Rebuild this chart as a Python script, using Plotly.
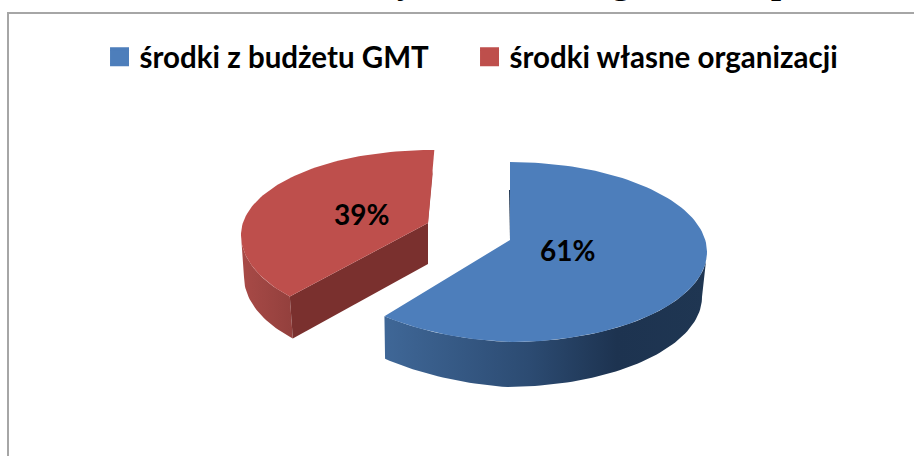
import math
import plotly.graph_objects as go

# --- data ---
categories = ["środki z budżetu GMT", "środki własne organizacji"]
shares = [61, 39]
labels = ["61%", "39%"]
top_colors = ["#4d7ebb", "#be4f4c"]
clipped_title_letters = ["y", "g", "p"]


def rim(cx, cy, rx, ry, a0, a1, n=80, tilt=0.0, ry_front=None):
    pts = []
    for i in range(n + 1):
        a = math.radians(a0 + (a1 - a0) * i / n)
        x = cx + rx * math.sin(a)
        c = -math.cos(a)
        r = ry_front if (ry_front is not None and c > 0) else ry
        y = cy + r * c - tilt * max(0.0, cx - x)
        pts.append((x, y))
    return pts


def poly(fig, pts, color=None, grad=None):
    xs = [p[0] for p in pts] + [pts[0][0]]
    ys = [p[1] for p in pts] + [pts[0][1]]
    kw = dict(fillcolor=color) if grad is None else dict(
        fillgradient=dict(type="horizontal", colorscale=grad))
    fig.add_trace(go.Scatter(x=xs, y=ys, mode="lines", fill="toself",
                             line=dict(width=0), showlegend=False,
                             hoverinfo="skip", **kw))


fig = go.Figure()
sweep_blue = 360 * shares[0] / sum(shares)

# red slice
r_c = (431, 235, 190, 85)
r_low = (434, 277, 190, 85)
r_apex = (428, 223)
r_a0 = sweep_blue + 8.4
r_rim = rim(*r_c, r_a0, 361, ry_front=92)
poly(fig, rim(*r_c, r_a0, 270, 30, ry_front=92) + rim(*r_low, 270, r_a0, 30, ry_front=92),
     grad=[[0, "#a84a47"], [1, "#93403d"]])
start = r_rim[0]
poly(fig, [start, r_apex, (r_apex[0], r_apex[1] + 41), (start[0] + 3, start[1] + 42)],
     color="#7a302e")
poly(fig, [(433, 170), (428, 223), (428, 190)], color="#a34644")
poly(fig, r_rim + [r_apex], color=top_colors[1])

# blue slice
b_c = (510, 252, 197, 90)
b_low = (505, 297, 197, 90)
b_apex = (510, 240)
b_rim = rim(*b_c, 0, sweep_blue, 120, tilt=0.04)
poly(fig, rim(*b_c, 90, sweep_blue, 80, tilt=0.04) + rim(*b_low, sweep_blue - 2.1, 90, 80, tilt=0.08),
     grad=[[0, "#3f6797"], [0.45, "#2c4b72"], [0.72, "#1d3350"], [1, "#1f3652"]])
poly(fig, [(509, 190), (510, 240), (514, 240), (511, 190)], color="#1d3350")
poly(fig, b_rim + [b_apex], color=top_colors[0])

# legend entries
for name, col in zip(categories, top_colors):
    fig.add_trace(go.Scatter(x=[None], y=[None], mode="markers", name=name,
                             marker=dict(symbol="square", size=16, color=col,
                                         line=dict(color=col, width=3))))

fig.add_annotation(x=567, y=250, text=f"<b>{labels[0]}</b>", showarrow=False,
                   font=dict(family="Lato", size=28, color="black"))
fig.add_annotation(x=361, y=214, text=f"<b>{labels[1]}</b>", showarrow=False,
                   font=dict(family="Lato", size=28, color="black"))

# clipped title above the chart frame
for letter, xp in zip(clipped_title_letters, [406, 621, 781]):
    fig.add_annotation(x=xp, y=3, yanchor="bottom", text=f"<b>{letter}</b>", showarrow=False,
                       font=dict(family="Liberation Serif", size=36, color="black"))

fig.add_shape(type="rect", x0=8, y0=13, x1=930, y1=470,
              line=dict(color="#a6a6a6", width=2), layer="below")

fig.update_layout(
    width=914, height=456, margin=dict(l=0, r=0, t=0, b=0),
    paper_bgcolor="white", plot_bgcolor="white",
    xaxis=dict(range=[0, 914], visible=False, fixedrange=True),
    yaxis=dict(range=[456, 0], visible=False, fixedrange=True),
    legend=dict(orientation="h", x=0.1089, y=0.9316, xanchor="left", yanchor="top",
                font=dict(family="Lato", size=29.5, color="black", weight="bold"),
                itemwidth=30, entrywidth=325, entrywidthmode="pixels",
                bgcolor="rgba(0,0,0,0)"),
)
fig.write_html("out.html", config={"displayModeBar": False},
               post_script="document.body.style.margin='0';document.documentElement.style.overflow='hidden';")
